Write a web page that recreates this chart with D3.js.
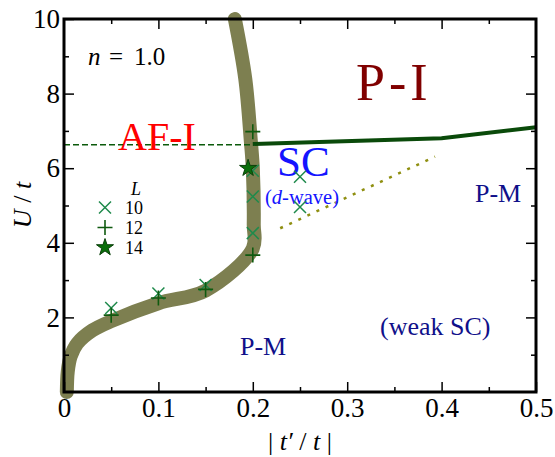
<!DOCTYPE html>
<html>
<head>
<meta charset="utf-8">
<script src="https://cdn.jsdelivr.net/npm/d3@7"></script>
<style>
  html, body { margin: 0; padding: 0; background: #fff; }
  svg { display: block; }
  svg text { font-family: "Liberation Serif", "Times New Roman", serif !important; }
</style>
</head>
<body>
<svg id="chart" width="555" height="457"></svg>
<script>
// ---- data ----
const xTicks = [0, 0.1, 0.2, 0.3, 0.4, 0.5];
const xMinorTicks = [0.05, 0.15, 0.25, 0.35, 0.45];
const yTicks = [2, 4, 6, 8, 10];
const yMinorTicks = [1, 3, 5, 7, 9];

// thick phase boundary (|t'/t|, U/t)
const boundaryLine = [
  [0.003, 0.0], [0.004, 0.55], [0.007, 0.95], [0.014, 1.3], [0.03, 1.65],
  [0.05, 1.9], [0.1, 2.38], [0.15, 2.72], [0.2, 3.85],
  [0.201, 4.5], [0.2, 6.0], [0.198, 6.7], [0.192, 8.4], [0.181, 10.0]
];
// AF-I / P-I boundary (solid)
const piLine = [[0.2, 6.65], [0.4, 6.8], [0.5, 7.1]];
// dashed AF-I boundary
const afLine = [[0.0, 6.63], [0.2, 6.63]];
// dotted weak-SC boundary
const scLine = [[0.229, 4.39], [0.393, 6.31]];

// markers
const ptsL10 = [[0.05, 2.25], [0.1, 2.64], [0.15, 2.87], [0.2, 5.93], [0.2, 5.24], [0.2, 4.26], [0.25, 5.77], [0.25, 4.96]];
const ptsL12 = [[0.05, 2.06], [0.1, 2.52], [0.15, 2.75], [0.2, 6.98], [0.2, 3.67]];
const ptsL14 = [[0.195, 6.0]];
const legendLabels = ["10", "12", "14"];

// ---- chart ----
const svg = d3.select("#chart");
const x = d3.scaleLinear().domain([0, 0.5]).range([64, 536]);
const y = d3.scaleLinear().domain([0, 10]).range([392, 19]);

const line = d3.line().x(d => x(d[0])).y(d => y(d[1]));
const smooth = d3.line().x(d => x(d[0])).y(d => y(d[1])).curve(d3.curveCatmullRom.alpha(0.5));

// thick olive boundary
svg.append("path").datum(boundaryLine)
  .attr("d", smooth)
  .attr("fill", "none").attr("stroke", "#7d7f50").attr("stroke-width", 14)
  .attr("stroke-linecap", "round").attr("stroke-linejoin", "round");

// dashed line
svg.append("path").datum(afLine)
  .attr("d", line).attr("fill", "none")
  .attr("stroke", "#0b5a0b").attr("stroke-width", 1.6)
  .attr("stroke-dasharray", "6,3");

// dotted line
svg.append("path").datum(scLine)
  .attr("d", line).attr("fill", "none")
  .attr("stroke", "#8f8f10").attr("stroke-width", 2.5)
  .attr("stroke-dasharray", "3,7");

// solid P-I line
svg.append("path").datum(piLine)
  .attr("d", line).attr("fill", "none")
  .attr("stroke", "#0a4a0a").attr("stroke-width", 4);

// ---- region labels ----
function label(t, xp, yp, size, color) {
  return svg.append("text").attr("x", xp).attr("y", yp)
    .attr("font-size", size).attr("fill", color).text(t);
}
label("AF-I", 118, 150, 40, "#ff0000");
label("P-I", 356, 100, 52, "#800000").attr("letter-spacing", 4);
label("SC", 277, 176, 43, "#1414ff");
const dw = svg.append("text").attr("x", 265).attr("y", 203.5).attr("font-size", 20.5).attr("fill", "#1414ff");
dw.append("tspan").text("(");
dw.append("tspan").attr("font-style", "italic").text("d");
dw.append("tspan").text("-wave)");
label("P-M", 475, 202, 26, "#10108a");
label("P-M", 240, 355, 26, "#10108a");
label("(weak SC)", 380, 335, 26, "#10108a");

const nt = svg.append("text").attr("y", 65).attr("font-size", 25).attr("fill", "#000");
nt.append("tspan").attr("x", 88).attr("font-style", "italic").text("n");
nt.append("tspan").attr("x", 109).text("=");
nt.append("tspan").attr("x", 134).text("1.0");

// ---- marker symbols ----
const symX = { draw(ctx, size) { const r = Math.sqrt(size) / 2; ctx.moveTo(-r, -r); ctx.lineTo(r, r); ctx.moveTo(r, -r); ctx.lineTo(-r, r); } };
const symP = { draw(ctx, size) { const r = Math.sqrt(size) / 2; ctx.moveTo(-r, 0); ctx.lineTo(r, 0); ctx.moveTo(0, -r); ctx.lineTo(0, r); } };

function drawMarkers(pts, type, size, stroke, fill, sw) {
  svg.append("g").selectAll("path").data(pts).join("path")
    .attr("transform", d => `translate(${x(d[0])},${y(d[1])})`)
    .attr("d", d3.symbol().type(type).size(size))
    .attr("fill", fill).attr("stroke", stroke).attr("stroke-width", sw);
}
drawMarkers(ptsL10, symX, 144, "#1f8a4c", "none", 1.5);
drawMarkers(ptsL12, symP, 225, "#0f5a0f", "none", 1.6);
drawMarkers(ptsL14, d3.symbolStar, 90, "#0a400a", "#0a6e0a", 1);

// ---- legend ----
const lg = svg.append("g");
lg.append("text").attr("x", 136).attr("y", 195).attr("text-anchor", "middle")
  .attr("font-size", 18).attr("font-style", "italic").text("L");
const legTypes = [[symX, 144, "#1f8a4c", "none", 1.5], [symP, 225, "#0f5a0f", "none", 1.6], [d3.symbolStar, 90, "#0a400a", "#0a6e0a", 1]];
legendLabels.forEach((t, i) => {
  const yy = 207.5 + i * 20;
  const s = legTypes[i];
  lg.append("path").attr("transform", `translate(105,${yy})`)
    .attr("d", d3.symbol().type(s[0]).size(s[1]))
    .attr("stroke", s[2]).attr("fill", s[3]).attr("stroke-width", s[4]);
  lg.append("text").attr("x", 125).attr("y", yy + 6.5).attr("font-size", 18).text(t);
});

// ---- axes ----
const fmtX = d => d === 0 ? "0" : d3.format(".1f")(d);
function styleAxis(g) {
  g.attr("font-family", null).attr("font-size", null);
  g.selectAll("path.domain").remove();
  g.selectAll("line").attr("stroke", "#000").attr("stroke-width", 1.5);
  g.selectAll("text").style("font-family", "'Liberation Serif', serif").attr("font-size", 27).attr("fill", "#000");
}
svg.append("g").attr("transform", "translate(0,392)")
  .call(d3.axisBottom(x).tickValues(xTicks).tickFormat(fmtX).tickSizeInner(-10).tickSizeOuter(0).tickPadding(6))
  .call(styleAxis);
svg.append("g").attr("transform", "translate(0,392)")
  .call(d3.axisBottom(x).tickValues(xMinorTicks).tickFormat("").tickSizeInner(-5).tickSizeOuter(0))
  .call(styleAxis);
svg.append("g").attr("transform", "translate(0,19)")
  .call(d3.axisTop(x).tickValues(xTicks.slice(1, -1)).tickFormat("").tickSizeInner(-10).tickSizeOuter(0))
  .call(styleAxis);
svg.append("g").attr("transform", "translate(0,19)")
  .call(d3.axisTop(x).tickValues(xMinorTicks).tickFormat("").tickSizeInner(-5).tickSizeOuter(0))
  .call(styleAxis);
svg.append("g").attr("transform", "translate(64,0)")
  .call(d3.axisLeft(y).tickValues(yTicks).tickFormat(d3.format("d")).tickSizeInner(-10).tickSizeOuter(0).tickPadding(4))
  .call(styleAxis);
svg.append("g").attr("transform", "translate(64,0)")
  .call(d3.axisLeft(y).tickValues(yMinorTicks).tickFormat("").tickSizeInner(-5).tickSizeOuter(0))
  .call(styleAxis);
svg.append("g").attr("transform", "translate(536,0)")
  .call(d3.axisRight(y).tickValues(yTicks.slice(0, -1)).tickFormat("").tickSizeInner(-10).tickSizeOuter(0))
  .call(styleAxis);
svg.append("g").attr("transform", "translate(536,0)")
  .call(d3.axisRight(y).tickValues(yMinorTicks).tickFormat("").tickSizeInner(-5).tickSizeOuter(0))
  .call(styleAxis);

// frame
svg.append("rect").attr("x", x(0)).attr("y", y(10))
  .attr("width", x(0.5) - x(0)).attr("height", y(0) - y(10))
  .attr("fill", "none").attr("stroke", "#000").attr("stroke-width", 3);

// axis titles
const xt = svg.append("text").attr("x", 300).attr("y", 450).attr("text-anchor", "middle").attr("font-size", 26);
xt.append("tspan").text("| ");
xt.append("tspan").attr("font-style", "italic").text("t′");
xt.append("tspan").text(" / ");
xt.append("tspan").attr("font-style", "italic").text("t");
xt.append("tspan").text(" |");

const yt = svg.append("text").attr("transform", "translate(31,205) rotate(-90)").attr("text-anchor", "middle").attr("font-size", 26);
yt.append("tspan").attr("font-style", "italic").text("U");
yt.append("tspan").text(" / ");
yt.append("tspan").attr("font-style", "italic").text("t");
</script>
</body>
</html>
